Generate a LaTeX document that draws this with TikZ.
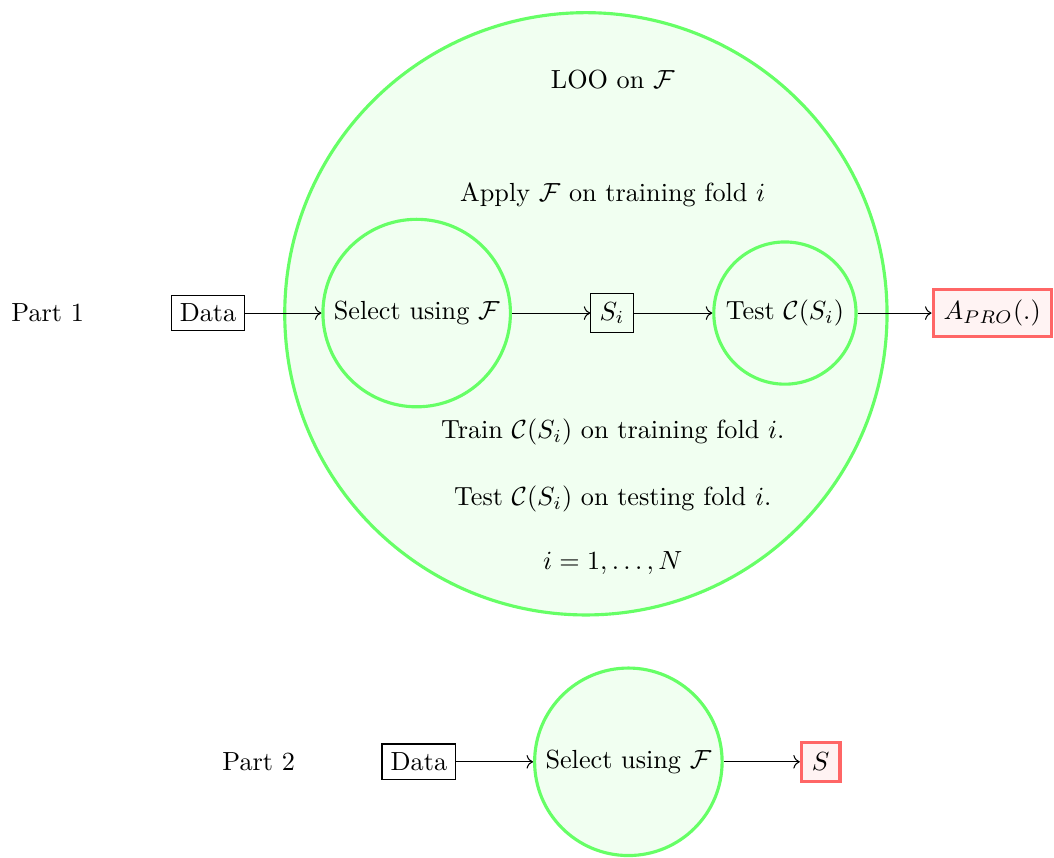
\documentclass[tikz,border=0pt]{standalone}
\usepackage{amsmath,amssymb}
\usepackage{tikz}
\usetikzlibrary{arrows.meta,positioning,calc}
\definecolor{cGrn}{HTML}{66FF66}
\definecolor{cRed}{HTML}{FF6666}
\tikzset{
  dat/.style   ={draw=black,rectangle,inner sep=3.33pt},
  stage/.style ={circle,draw=cGrn,fill=cGrn!9,very thick,inner sep=3.33pt},
  res/.style   ={rectangle,draw=cRed,fill=cRed!8,very thick,inner sep=4pt},
  lbl/.style   ={inner sep=2pt},
  sig/.style   ={->,draw=black},
}

\begin{document}
\begin{tikzpicture}[x=1mm, y=1mm]
\useasboundingbox (0,0) rectangle (141.4,-115);

% the outer LOO loop, drawn first so everything else sits on top of it
\node[stage,minimum size=80.8mm] (loo) at (78.6,-42.1) {};

\node[lbl] (loolbl)   at (82.2,-10.7) {LOO on $\mathcal{F}$};
\node[lbl] (apply)    at (82.2,-26.2) {Apply $\mathcal{F}$ on training fold $i$};
\node[lbl] (train)    at (82.2,-57.9) {Train $\mathcal{C}(S_i)$ on training fold $i$.};
\node[lbl] (testfold) at (82.2,-66.9) {Test $\mathcal{C}(S_i)$ on testing fold $i$.};
\node[lbl] (folds)    at (82.2,-75.5) {$i=1,\ldots,N$};

% part 1: selection inside the cross-validation
\node[lbl] (part1)  at (6.4,-42)   {Part 1};
\node[dat] (data1)  at (27.9,-42)  {Data};
\node[stage] (sel1) at (55.9,-42)  {Select using $\mathcal{F}$};
\node[dat] (si)     at (82.1,-42)  {$S_i$};
\node[stage] (test) at (105.3,-42) {Test $\mathcal{C}(S_i)$};
\node[res] (apro)   at (133.1,-42) {$A_{PRO}(.)$};

\draw[sig] (data1) -- (sel1);
\draw[sig] (sel1) -- (si);
\draw[sig] (si) -- (test);
\draw[sig] (test) -- (apro);

% part 2: selection on the whole data
\node[lbl] (part2)  at (34.7,-102.2) {Part 2};
\node[dat] (data2)  at (56.2,-102.2) {Data};
\node[stage] (sel2) at (84.3,-102.2) {Select using $\mathcal{F}$};
\node[res] (sfin)   at (110.1,-102.2) {$S$};

\draw[sig] (data2) -- (sel2);
\draw[sig] (sel2) -- (sfin);
\end{tikzpicture}
\end{document}
